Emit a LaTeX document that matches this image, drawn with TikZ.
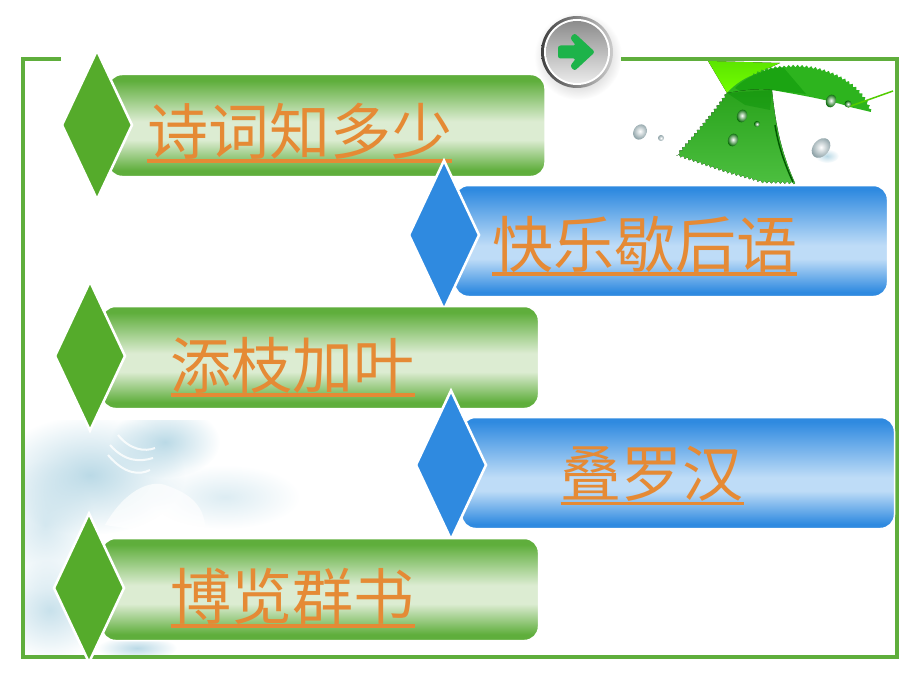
\documentclass[tikz,border=0pt]{standalone}
\usepackage{fontspec}
\setmainfont{Noto Sans CJK SC}
\usetikzlibrary{shapes.geometric,fadings,decorations.pathmorphing}
\definecolor{framegreen}{HTML}{5FAE3C}
\definecolor{gemgreen}{HTML}{55AB2B}
\definecolor{palegreen}{HTML}{DCECD2}
\definecolor{barblue}{HTML}{2F8AE0}
\definecolor{paleblue}{HTML}{BEDCF7}
\definecolor{linkorange}{HTML}{E58A35}
\definecolor{washblue}{HTML}{A9D0E0}
\definecolor{leafgreen}{HTML}{2DB41E}
\definecolor{arrowgreen}{HTML}{1DB34A}
\definecolor{dropgrey}{HTML}{8FA3A8}
\pgfdeclareverticalshading{greenbar}{100bp}{color(0bp)=(framegreen); color(28bp)=(framegreen); color(43bp)=(palegreen); color(52bp)=(palegreen); color(72bp)=(framegreen); color(100bp)=(framegreen)}
\pgfdeclareverticalshading{bluebar}{100bp}{color(0bp)=(barblue); color(27bp)=(barblue); color(42bp)=(paleblue); color(48bp)=(paleblue); color(73bp)=(barblue); color(100bp)=(barblue)}
\newsavebox{\linkbox}
\newcommand{\linktext}[1]{\sbox{\linkbox}{#1}\usebox{\linkbox}\kern-\wd\linkbox\raisebox{-8.5pt}{\rule{\wd\linkbox}{3.5pt}}}
\tikzfading[name=softblob, inner color=transparent!20, outer color=transparent!100]
\tikzset{
  greenbox/.style={rounded corners=14pt, shading=greenbar, draw=white, line width=1.5pt, minimum width=437pt, minimum height=102pt, inner sep=0pt},
  bluebox/.style={rounded corners=14pt, shading=bluebar, draw=white, line width=1.5pt, minimum width=433pt, minimum height=111pt, inner sep=0pt},
  gem/.style={shape=diamond, draw=white, line width=2.5pt, minimum width=71pt, minimum height=150pt, inner sep=0pt},
  linklabel/.style={text=linkorange, font=\fontsize{61pt}{61pt}\selectfont, inner sep=0pt},
  blob/.style={fill=washblue, path fading=softblob},
  drop/.style={shape=ellipse, inner color=white, outer color=dropgrey, inner sep=0pt},
  leafdrop/.style={shape=ellipse, inner color=white, outer color=green!40!black, inner sep=0pt},
  saw/.style={decoration={zigzag, segment length=4.5pt, amplitude=1.2pt}}
}
\begin{document}
\begin{tikzpicture}[x=1pt,y=-1pt]
  \useasboundingbox (0,0) rectangle (920,690);
  % washed out picture, lower left
  \begin{scope}
    \clip (25,420) rectangle (300,655);
    \fill [blob] (90,475) ellipse (95 and 60);
    \fill [blob] (165,442) ellipse (55 and 36);
    \fill [blob, opacity=.6] (45,525) ellipse (50 and 65);
    \fill [blob, opacity=.8] (50,610) ellipse (55 and 50);
    \fill [blob, opacity=.5] (225,497) ellipse (75 and 32);
    \fill [blob] (137,648) ellipse (40 and 12);
    \fill [white, opacity=.65] (105,525) .. controls (125,490) and (150,480) .. (165,485) .. controls (195,495) and (208,510) .. (205,540) -- cycle;
    \draw [white, line width=2pt, opacity=.8] (110,445) .. controls (125,462) and (140,462) .. (153,458);
    \draw [white, line width=2pt, opacity=.8] (118,435) .. controls (130,450) and (145,452) .. (155,448);
    \draw [white, line width=2pt, opacity=.8] (108,455) .. controls (125,475) and (140,475) .. (150,470);
  \end{scope}
  % leaf
  \fill [top color=green!60!yellow!90!black, bottom color=green!55!yellow] (708,61) -- (780,63) .. controls (760,72) and (745,78) .. (735,88) -- (727,93) -- cycle;
  \fill [saw, fill=leafgreen] (727,93) .. controls (735,84) and (745,78) .. (753,75) decorate {.. controls (765,68) and (775,67) .. (783,67) .. controls (810,62) and (860,75) .. (871,112)} -- (850,107) .. controls (830,100) and (800,95) .. (772,90) -- cycle;
  \fill [green!55!black, opacity=.4] (735,88) .. controls (745,78) and (765,68) .. (783,67) -- (806,94) -- (772,90) -- (770,110) -- cycle;
  \fill [saw, top color=leafgreen!90!black, bottom color=leafgreen!85!white] (772,90) .. controls (775,120) and (780,150) .. (795,183) decorate {-- (763,182) -- (727,172) -- (677,155) .. controls (690,140) and (712,115) .. (727,93)} .. controls (745,90) and (760,88) .. (772,90) -- cycle;
  \fill [green!55!black, opacity=.35] (727,93) -- (772,90) -- (770,110) -- (745,105) -- cycle;
  \draw [green!60!yellow!80!black, line width=1.5pt] (848,107) -- (893,91);
  \draw [green!35!black, line width=1.5pt] (775,125) .. controls (778,145) and (785,165) .. (793,182);
  \fill [blob] (827,156) ellipse (12 and 7);
  \node [drop, rotate=-30, minimum width=13pt, minimum height=16pt] (dropa) at (640,132) {};
  \node [drop, minimum size=6pt] (dropb) at (661,138) {};
  \node [drop, rotate=-40, minimum width=16pt, minimum height=22pt] (dropc) at (821,148) {};
  \node [leafdrop, rotate=-20, minimum width=10pt, minimum height=13pt] (dropd) at (742,116) {};
  \node [leafdrop, minimum size=6pt] (drope) at (757,124) {};
  \node [leafdrop, rotate=-20, minimum width=10pt, minimum height=13pt] (dropf) at (733,140) {};
  \node [leafdrop, rotate=-20, minimum width=10pt, minimum height=13pt] (dropg) at (831,101) {};
  \node [leafdrop, minimum size=7pt] (droph) at (848,104) {};
  % frame
  \draw [framegreen, line width=3.5pt] (61,59) -- (23,59) -- (23,657) -- (897,657) -- (897,59) -- (621,59);
  % button
  \fill [black!50, path fading=softblob] (578,56) circle (44);
  \node [circle, minimum size=72pt, inner sep=0pt, left color=black!75, right color=black!20] (gorim) at (577,52) {};
  \node [circle, minimum size=66pt, inner sep=0pt, fill=white] (goring) at (gorim) {};
  \node [circle, minimum size=62pt, inner sep=0pt, top color=black!45, bottom color=black!8] (go) at (gorim) {};
  \fill [arrowgreen, rounded corners=2.5pt] (558,45.5) -- (576,45.5) -- (570,38) -- (574.5,33) -- (595,52) -- (574.5,71) -- (570,66) -- (576,58.5) -- (558,58.5) -- cycle;
  % items
  \node [greenbox] (b1) at (326.5,125.5) {};
  \node [gem, fill=gemgreen] (g1) at (97,125) {};
  \node [linklabel] (t1) at (299.5,133) {\linktext{诗词知多少}};
  \node [bluebox] (b2) at (671,241) {};
  \node [gem, fill=barblue] (g2) at (444,235) {};
  \node [linklabel] (t2) at (644.5,246) {\linktext{快乐歇后语}};
  \node [greenbox] (b3) at (320,357.5) {};
  \node [gem, fill=gemgreen] (g3) at (90,356) {};
  \node [linklabel] (t3) at (292.5,367) {\linktext{添枝加叶}};
  \node [bluebox] (b4) at (678,473) {};
  \node [gem, fill=barblue] (g4) at (451,465) {};
  \node [linklabel] (t4) at (652,476) {\linktext{叠罗汉}};
  \node [greenbox] (b5) at (320,589.5) {};
  \node [gem, fill=gemgreen] (g5) at (89,588) {};
  \node [linklabel] (t5) at (292.5,598) {\linktext{博览群书}};
\end{tikzpicture}
\end{document}
